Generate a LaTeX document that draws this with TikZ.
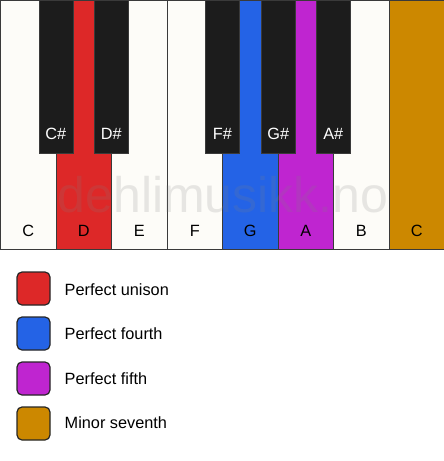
\documentclass[tikz,border=0pt]{standalone}
\usepackage{fontspec}
\setmainfont{Liberation Sans}
\definecolor{wkey}{HTML}{FDFCF8}
\definecolor{bkey}{HTML}{1C1C1C}
\definecolor{kred}{HTML}{DD2828}
\definecolor{kblue}{HTML}{2463E6}
\definecolor{kpurple}{HTML}{BF25D0}
\definecolor{kgold}{HTML}{CC8800}
\definecolor{edge}{HTML}{3A3A3A}
\begin{document}
\begin{tikzpicture}[x=1pt,y=-1pt,
  white/.style={draw=edge,line width=1pt,fill=wkey,minimum width=55.5pt,minimum height=249pt,anchor=north west,inner sep=0pt},
  black/.style={draw=edge,line width=0.6pt,fill=bkey,minimum width=34pt,minimum height=153pt,anchor=north west,inner sep=0pt},
  wlab/.style={font=\fontsize{16.3}{17}\selectfont,text=black},
  blab/.style={font=\fontsize{16.3}{17}\selectfont,text=white},
  swatch/.style={draw=black!85,line width=1.2pt,rounded corners=5pt,minimum width=33pt,minimum height=33pt,inner sep=0pt},
  ltext/.style={font=\fontsize{16.3}{17}\selectfont,anchor=west,inner sep=0pt}]
\useasboundingbox (0,0) rectangle (444,461);
% white keys
\node[white] (kC) at (0,0) {};
\node[white,fill=kred] (kD) at (55.5,0) {};
\node[white] (kE) at (111,0) {};
\node[white] (kF) at (166.5,0) {};
\node[white,fill=kblue] (kG) at (222,0) {};
\node[white,fill=kpurple] (kA) at (277.5,0) {};
\node[white] (kB) at (333,0) {};
\node[white,fill=kgold] (kC2) at (388.5,0) {};
% watermark
\node[font=\fontsize{50}{50}\selectfont,text=gray,opacity=0.18] (wm) at (223,195) {dehlimusikk.no};
% labels on white keys
\foreach \k/\t in {kC/C,kD/D,kE/E,kF/F,kG/G,kA/A,kB/B,kC2/C}
  \node[wlab] (l\k) at ([yshift=19pt]\k.south) {\t};
% black keys
\node[black] (bCs) at (38.5,0) {};
\node[black] (bDs) at (94,0) {};
\node[black] (bFs) at (205,0) {};
\node[black] (bGs) at (261,0) {};
\node[black] (bAs) at (316,0) {};
\foreach \k/\t in {bCs/C\#,bDs/D\#,bFs/F\#,bGs/G\#,bAs/A\#}
  \node[blab] (l\k) at ([yshift=20pt]\k.south) {\t};
% legend
\node[swatch,fill=kred] (s1) at (33.5,288.5) {};
\node[swatch,fill=kblue] (s2) at (33.5,333.5) {};
\node[swatch,fill=kpurple] (s3) at (33.5,378.5) {};
\node[swatch,fill=kgold] (s4) at (33.5,423.5) {};
\node[ltext] (t1) at (64.5,290) {Perfect unison};
\node[ltext] (t2) at (64.5,334) {Perfect fourth};
\node[ltext] (t3) at (64.5,378.5) {Perfect fifth};
\node[ltext] (t4) at (64.5,423) {Minor seventh};
\end{tikzpicture}
\end{document}
